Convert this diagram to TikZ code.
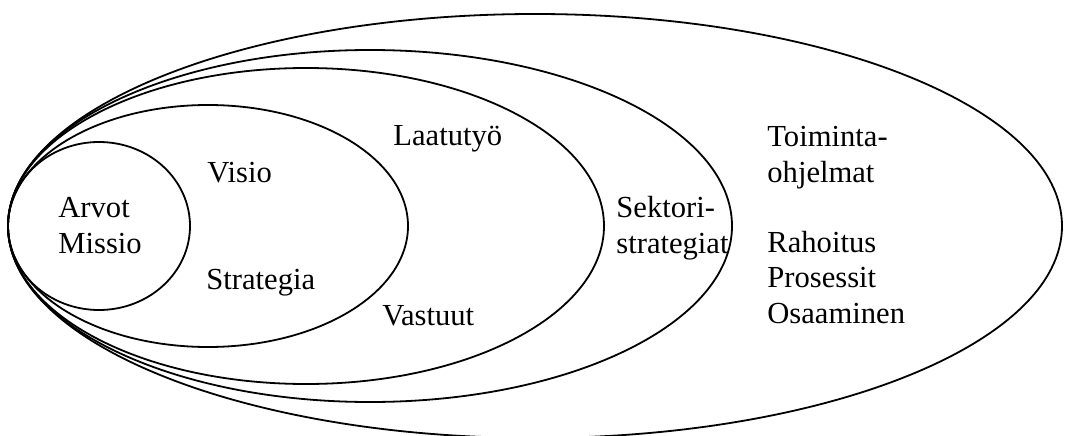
\documentclass[tikz,border=0pt]{standalone}
\usepackage{fontspec}
\setmainfont{Liberation Serif}
\usepackage{tikz}

\tikzset{
	ring/.style={line width=0.9pt},
	lbl/.style={anchor=base west, inner sep=0pt, align=left, font=\fontsize{15.3}{17.75}\selectfont}
}

\begin{document}
\begin{tikzpicture}[x=0.5pt, y=0.5pt]
		%%%%% START %%%%%
		\useasboundingbox (0, 0) rectangle (1083, 435);
		
		\draw[ring] (99, 209) ellipse (91 and 84);
		\draw[ring] (208, 209) ellipse (200 and 121);
		\draw[ring] (306, 209) ellipse (298 and 158);
		\draw[ring] (370, 209) ellipse (362 and 176);
		\draw[ring] (535, 209) ellipse (527 and 212);
		
		% base anchor sits on the last line
		\node[lbl] (arvot) at (58, 182) {Arvot\\Missio};
		\node[lbl] (visio) at (207, 253) {Visio};
		\node[lbl] (strategia) at (206, 146) {Strategia};
		
		\node[lbl] (laatu) at (393, 290) {Laatutyö};
		\node[lbl] (vastuut) at (382, 110) {Vastuut};
		
		\node[lbl] (sektori) at (616, 182) {Sektori-\\strategiat};
		
		\node[lbl] (toiminta) at (767, 253) {Toiminta-\\ohjelmat};
		\node[lbl] (rahoitus) at (767, 112) {Rahoitus\\Prosessit\\Osaaminen};
		
		%%%%% END %%%%%
\end{tikzpicture}
\end{document}
